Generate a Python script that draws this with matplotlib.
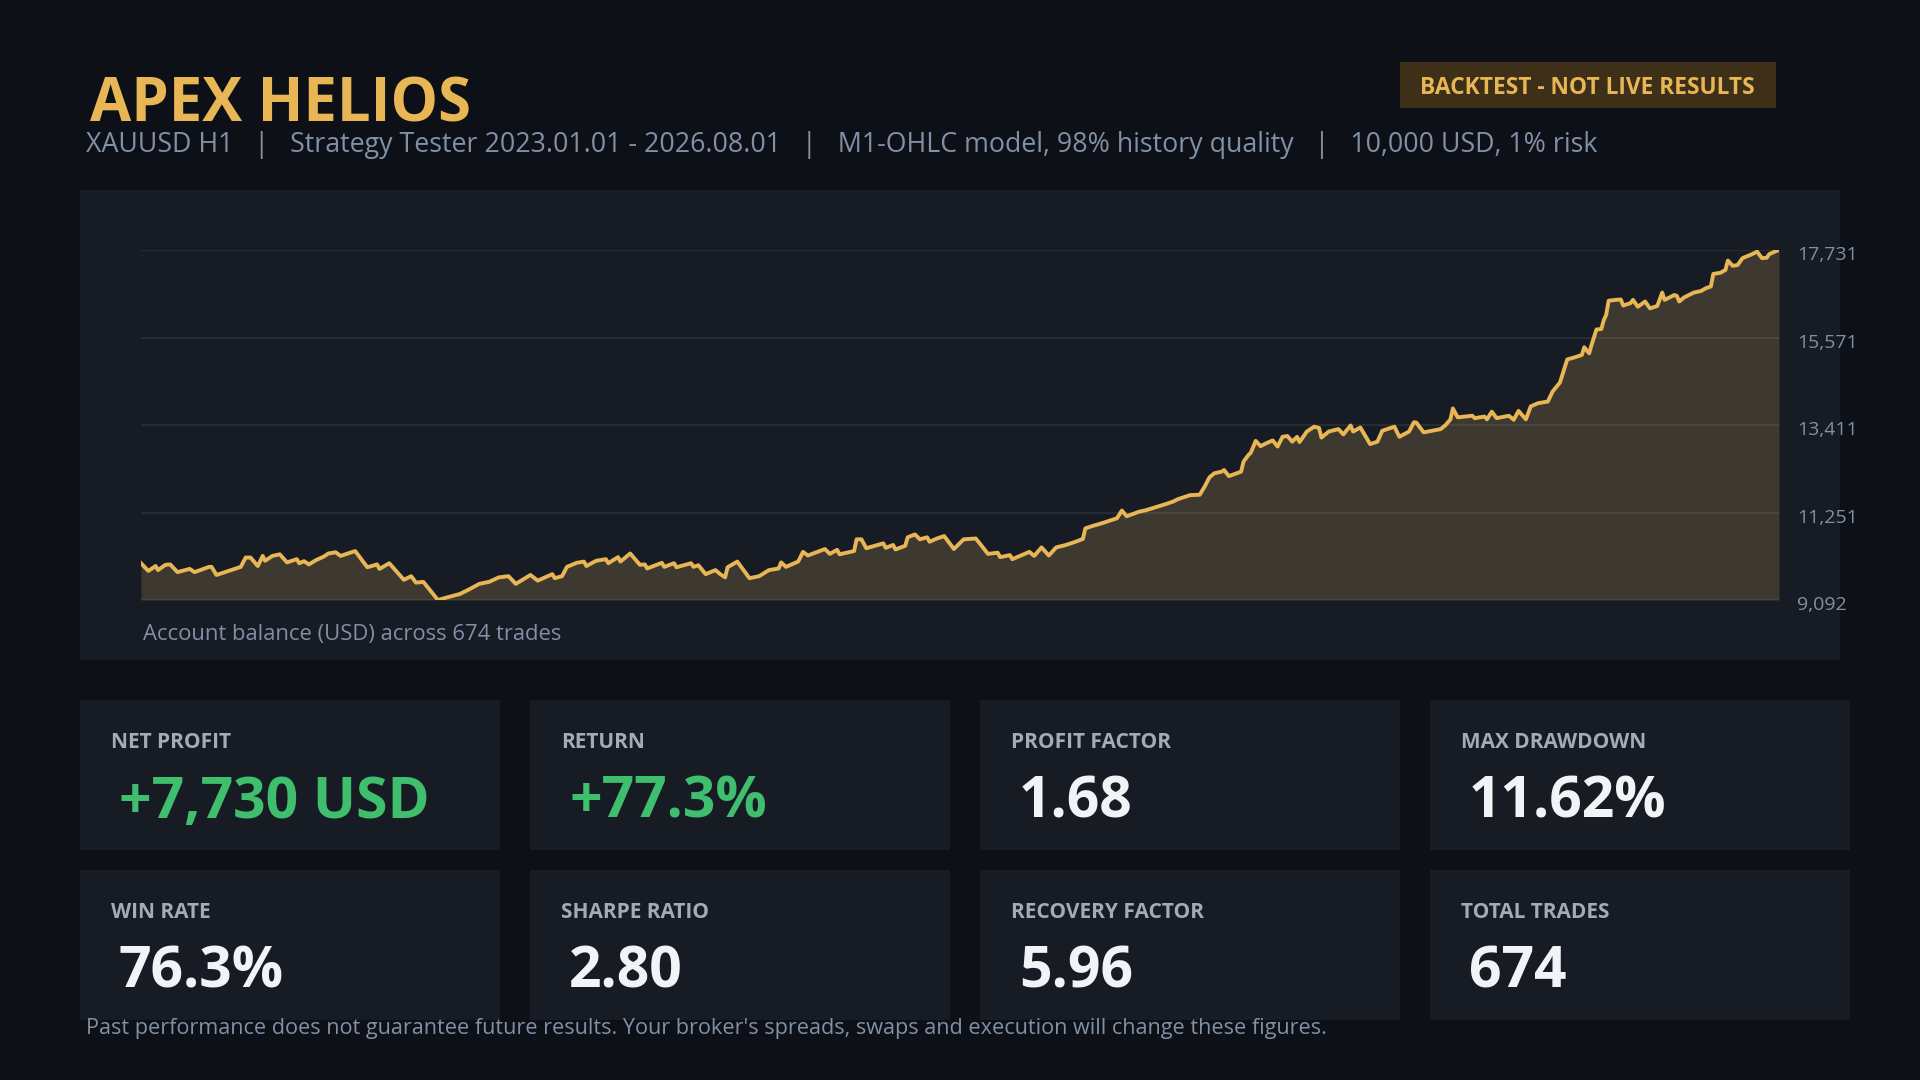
import matplotlib
matplotlib.use("Agg")
import matplotlib.pyplot as plt
from matplotlib.patches import Rectangle
from matplotlib.transforms import offset_copy

# ---- colours ----
BG = '#0d1017'
PANEL = '#171b24'
GOLD = '#e9b655'
FILL = '#3d3930'
MUTED = '#8190a5'
GREEN = '#3fbf6e'
WHITE = '#f1f3f6'
BADGE = '#3d2f18'

# ---- texts ----
title = "APEX HELIOS"
subtitle_parts = ["XAUUSD H1", "Strategy Tester 2023.01.01 - 2026.08.01",
                  "M1-OHLC model, 98% history quality", "10,000 USD, 1% risk"]
badge_text = "BACKTEST - NOT LIVE RESULTS"
caption = "Account balance (USD) across 674 trades"
footer = ("Past performance does not guarantee future results. "
          "Your broker's spreads, swaps and execution will change these figures.")

# ---- equity curve (trade number, balance in USD) ----
trade_no = [0, 3, 6, 7, 10, 12, 15, 20, 22, 28, 29, 31, 37, 41, 43, 45, 48, 50, 51, 54,
            57, 60, 64, 65, 67, 69, 72, 75, 77, 80, 82, 88, 93, 97, 98, 102, 108, 111, 113, 116,
            122, 126, 131, 135, 139, 143, 147, 151, 154, 160, 163, 169, 170, 173, 175, 179, 182, 183, 187, 191,
            192, 196, 197, 201, 205, 207, 208, 214, 215, 219, 220, 226, 227, 229, 232, 236, 238, 240, 241, 245,
            250, 254, 258, 262, 263, 265, 270, 272, 274, 278, 281, 283, 286, 287, 293, 294, 296, 298, 305, 306,
            309, 310, 314, 315, 318, 320, 323, 324, 327, 330, 334, 338, 343, 348, 352, 353, 357, 358, 365, 367,
            370, 373, 376, 380, 384, 387, 388, 391, 395, 401, 403, 405, 410, 413, 420, 424, 426, 431, 435, 437,
            439, 441, 444, 445, 447, 452, 453, 455, 456, 458, 460, 463, 465, 467, 469, 471, 473, 475, 476, 479,
            482, 484, 485, 488, 492, 494, 497, 498, 501, 505, 508, 510, 515, 517, 521, 523, 524, 527, 534, 536,
            538, 539, 541, 547, 548, 552, 553, 555, 557, 562, 564, 566, 569, 571, 574, 578, 580, 583, 586, 589,
            592, 593, 595, 596, 598, 600, 601, 602, 603, 606, 608, 609, 612, 613, 615, 618, 620, 623, 625, 626,
            630, 631, 632, 634, 638, 641, 643, 645, 646, 649, 651, 652, 654, 656, 658, 660, 662, 664, 666, 668,
            669, 672, 673]
balance = [10000, 9810, 9930, 9830, 9960, 9970, 9780, 9860, 9780, 9910, 9910, 9710, 9830, 9910, 10140, 10140, 9930, 10180, 10060, 10180,
           10220, 10020, 10100, 10000, 10050, 9970, 10080, 10160, 10240, 10270, 10180, 10300, 9900, 9970, 9860, 10000, 9590, 9680, 9520, 9540,
           9092, 9160, 9240, 9360, 9490, 9540, 9650, 9680, 9490, 9710, 9570, 9730, 9630, 9680, 9910, 10010, 10040, 9930, 10060, 10100,
           10000, 10150, 10040, 10240, 9960, 9970, 9870, 10010, 9910, 10000, 9900, 10000, 9910, 9950, 9730, 9830, 9730, 9650, 9900, 10040,
           9630, 9680, 9830, 9870, 10020, 9910, 10040, 10280, 10190, 10280, 10350, 10230, 10330, 10220, 10300, 10590, 10590, 10370, 10490, 10380,
           10450, 10340, 10430, 10640, 10710, 10590, 10640, 10530, 10610, 10670, 10350, 10590, 10610, 10230, 10260, 10150, 10200, 10100, 10280, 10180,
           10390, 10190, 10390, 10450, 10530, 10600, 10860, 10920, 10990, 11110, 11300, 11160, 11270, 11310, 11440, 11520, 11580, 11680, 11690, 11890,
           12120, 12220, 12260, 12300, 12150, 12260, 12510, 12670, 12730, 13020, 12890, 12980, 13030, 12880, 13120, 13140, 13000, 13120, 12990, 13250,
           13370, 13340, 13100, 13250, 13310, 13180, 13400, 13250, 13350, 12940, 13000, 13270, 13370, 13120, 13250, 13480, 13470, 13230, 13310, 13410,
           13550, 13820, 13600, 13640, 13580, 13620, 13550, 13740, 13580, 13640, 13540, 13760, 13550, 13870, 13950, 13990, 14240, 14460, 15030, 15080,
           15140, 15330, 15180, 15390, 15770, 15780, 16000, 16130, 16480, 16500, 16510, 16360, 16420, 16500, 16330, 16460, 16290, 16350, 16680, 16500,
           16620, 16600, 16460, 16560, 16680, 16720, 16790, 16830, 17140, 17170, 17240, 17470, 17340, 17360, 17530, 17580, 17630, 17690, 17530, 17540,
           17630, 17710, 17731]
y_ticks = [9092, 11251, 13411, 15571, 17731]

# ---- summary cards ----
card_labels = ["NET PROFIT", "RETURN", "PROFIT FACTOR", "MAX DRAWDOWN",
               "WIN RATE", "SHARPE RATIO", "RECOVERY FACTOR", "TOTAL TRADES"]
card_values = ["+7,730 USD", "+77.3%", "1.68", "11.62%",
               "76.3%", "2.80", "5.96", "674"]

W, H = 1920, 1080
plt.rcParams['font.family'] = ['Open Sans', 'DejaVu Sans']


def fx(px):
    return px / W


def fy(py):
    return 1 - py / H


def box(fig, x0, y0, x1, y1, color):
    fig.add_artist(Rectangle((fx(x0), fy(y1)), (x1 - x0) / W, (y1 - y0) / H,
                             transform=fig.transFigure, color=color, lw=0, zorder=-1))


fig = plt.figure(figsize=(W / 100, H / 100), dpi=100, facecolor=BG)

# header
fig.text(fx(90), fy(121), title, fontsize=43, fontweight='bold', color=GOLD, va='baseline')
fig.text(fx(86), fy(152), "   |   ".join(subtitle_parts), fontsize=19.3, color=MUTED, va='baseline')
box(fig, 1400, 62, 1776, 108, BADGE)
fig.text(fx(1587), fy(94), badge_text, fontsize=16.4, fontweight='bold', color=GOLD,
         ha='center', va='baseline')

# chart panel
box(fig, 80, 190, 1840, 660, PANEL)
ax = fig.add_axes([fx(141), fy(600), (1779 - 141) / W, (600 - 250) / H])
ax.set_facecolor('none')
ax.fill_between(trade_no, balance, y_ticks[0], color=FILL, lw=0, zorder=1)
ax.plot(trade_no, balance, color=GOLD, lw=2.8, solid_joinstyle='round', zorder=3)
ax.set_xlim(trade_no[0], trade_no[-1])
ax.set_ylim(y_ticks[0], y_ticks[-1])
ax.set_yticks(y_ticks)
ax.set_xticks([])
ax.tick_params(length=0, labelleft=False)
ax.set_axisbelow(False)
ax.grid(axis='y', color='white', alpha=0.08, lw=1.3)
for s in ax.spines.values():
    s.set_visible(False)

lbl_tr = offset_copy(ax.get_yaxis_transform(), fig=fig, x=18, y=-5, units='dots')
for v in y_ticks:
    ax.text(1.0, v, f"{v:,}", transform=lbl_tr, fontsize=14, color=MUTED,
            ha='left', va='center', clip_on=False)

fig.text(fx(143), fy(640), caption, fontsize=15.8, color=MUTED, va='baseline')

# metric cards
for i, (lab, val) in enumerate(zip(card_labels, card_values)):
    row, col = divmod(i, 4)
    x0 = 80 + col * 450
    y0 = 700 + row * 170
    box(fig, x0, y0, x0 + 420, y0 + 150, PANEL)
    fig.text(fx(x0 + 31), fy(y0 + 48), lab, fontsize=15, fontweight='bold',
             color='#a3abb9', va='baseline')
    fig.text(fx(x0 + 39), fy(y0 + 118), val, fontsize=41, fontweight='bold',
             color=GREEN if val.startswith('+') else WHITE, va='baseline')

fig.text(fx(86), fy(1034), footer, fontsize=15.6, color=MUTED, va='baseline')

fig.savefig("out.png", dpi=100, facecolor=BG)
